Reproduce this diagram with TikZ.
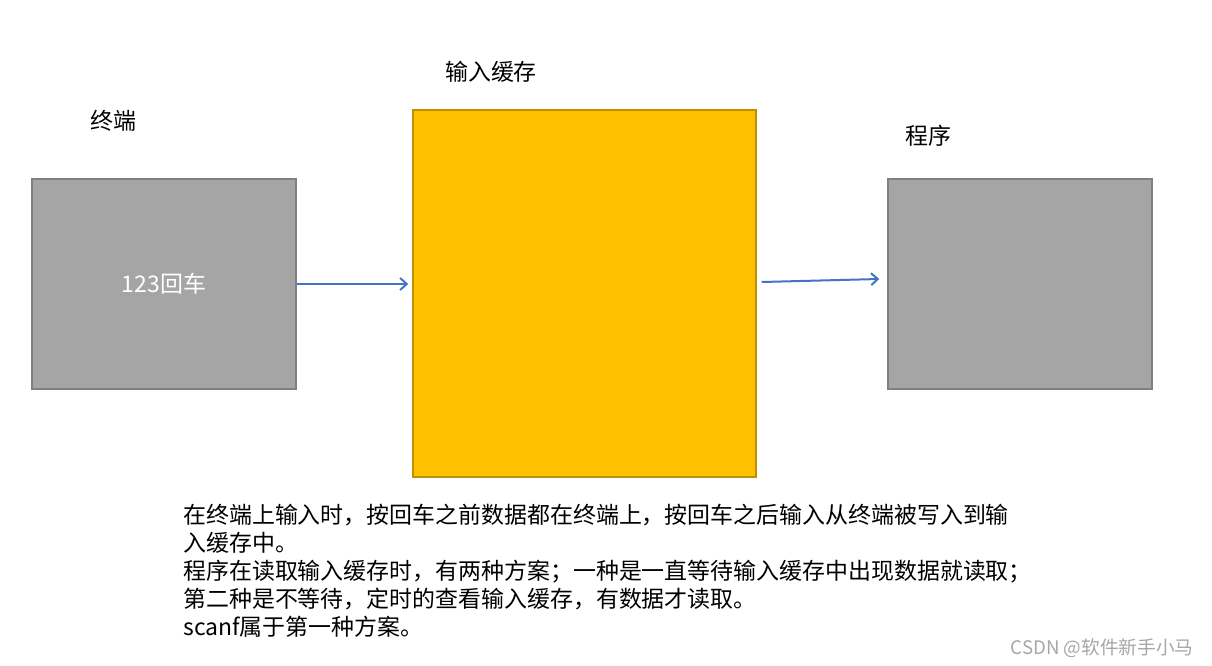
\documentclass[tikz,border=0pt]{standalone}
\usepackage{fontspec}
\usepackage{tikz}
\usetikzlibrary{calc,arrows.meta}
\newfontfamily\cjk{Noto Sans CJK SC}
\definecolor{boxgray}{HTML}{A5A5A5}
\definecolor{boxedge}{HTML}{7F7F7F}
\definecolor{bufyellow}{HTML}{FFC000}
\definecolor{bufedge}{HTML}{BF9000}
\definecolor{arrblue}{HTML}{4472C4}

\begin{document}
\begin{tikzpicture}[x = 0.75pt, y = -0.75pt,
  every node/.style = {font=\cjk\fontsize{17.2}{21}\selectfont, inner sep=0pt},
  devbox/.style = {draw=boxedge, fill=boxgray, line width=1.1pt,
    minimum width=198pt, minimum height=157.5pt},
  arr/.style = {draw=arrblue, line width=1.5pt, -{Straight Barb[length=5pt, width=9pt]}}]
\useasboundingbox (0,0) rectangle (1212,666);
\node[devbox, text=white] (term) at (164,284) {123回车};
\node[draw=bufedge, fill=bufyellow, line width=1.1pt,
  minimum width=257.25pt, minimum height=275.25pt] (buf) at (584.5,293.5) {};
\node[devbox] (prog) at (1020,284) {};
\node (termlbl) at (113,121) {终端};
\node (buflbl) at (491,72) {输入缓存};
\node (proglbl) at (928,136) {程序};
\draw[arr] (term.east) -- ($(buf.west |- term.east)+(-4,0)$);
\draw[arr] ($(buf.east)+(5,-11.5)$) -- ($(prog.west)+(-8,-5)$);
\node[anchor=north west, align=left] (note) at (183,504)
  {在终端上输入时，按回车之前数据都在终端上，按回车之后输入从终端被写入到输\\
   入缓存中。\\
   程序在读取输入缓存时，有两种方案；一种是一直等待输入缓存中出现数据就读取；\\
   第二种是不等待，定时的查看输入缓存，有数据才读取。\\
   scanf属于第一种方案。};
\node[font=\cjk\fontsize{14}{16}\selectfont, text=gray!70] (mark) at (1102,648) {CSDN @软件新手小马};
\end{tikzpicture}
\end{document}
